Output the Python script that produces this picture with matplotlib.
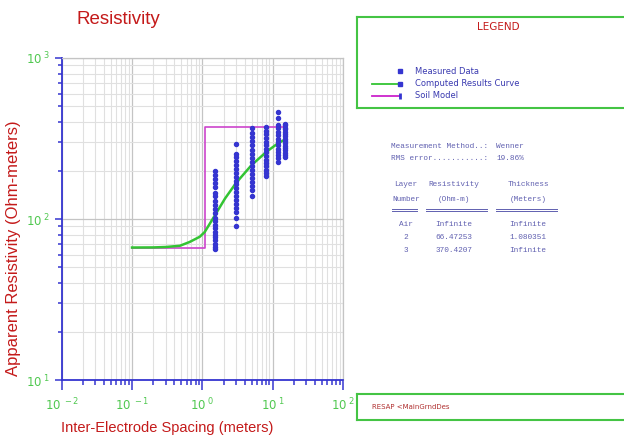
import math
import matplotlib
matplotlib.use("Agg")
import matplotlib.pyplot as plt
from matplotlib.ticker import LogLocator, FuncFormatter, NullFormatter

# electrode spacings (m) and measured apparent resistivity (ohm-m)
spacing = [1.5, 3, 5, 8, 12, 15]
measured = [
    [199, 188, 177, 167, 157, 146, 138, 129, 122, 115, 109, 102, 97, 92, 88, 83, 80, 77, 74, 70, 67, 65],
    [291, 255, 242, 229, 217, 205, 194, 183, 173, 164, 155, 147, 139, 131, 124, 117, 110, 101, 91],
    [366, 344, 323, 304, 287, 270, 254, 240, 226, 214, 201, 190, 179, 169, 160, 151, 138],
    [371, 352, 335, 318, 302, 287, 272, 259, 246, 234, 222, 212, 201, 193, 185],
    [464, 421, 383, 365, 348, 332, 316, 301, 288, 274, 262, 249, 238, 226],
    [391, 383, 370, 360, 348, 337, 326, 316, 306, 295, 286, 276, 267, 258, 249, 242],
]

# computed results curve
curve_x = [0.1, 0.2, 0.3, 0.48, 0.66, 0.92, 1.08, 1.5, 2.1, 3.0, 5.0, 8.2, 12, 15.3]
curve_rho = [66.5, 66.6, 67, 68.2, 72, 77.6, 83, 105, 134, 167, 216, 262, 296, 313]

# soil model
layer_rho = [66.47253, 370.4207]
layer_thick = 1.080351
model_start, model_end = 0.1, 15.3

table_rows = [
    ["Air", "Infinite", "Infinite"],
    ["2", "66.47253", "1.080351"],
    ["3", "370.4207", "Infinite"],
]
method = "Wenner"
rms_error = "19.86%"

red = "#c41a1a"
blue = "#3535d0"
green_txt = "#50c850"
txt_blue = "#6060b0"

W, H = 624, 440
fig = plt.figure(figsize=(6.24, 4.40), dpi=100)
fx = lambda px: px / W
fy = lambda py: 1 - py / H

ax = fig.add_axes([fx(61.7), fy(380), (343 - 61.7) / W, 322 / H])
ax.set_xscale("log")
ax.set_yscale("log")
ax.set_xlim(1e-2, 1e2)
ax.set_ylim(1e1, 1e3)

ax.grid(which="major", color="#c4c4c4", lw=0.9)
ax.grid(which="minor", color="#e0e0e0", lw=0.8)
ax.set_axisbelow(True)

# soil model
mx = [model_start, layer_thick, layer_thick, model_end]
my = [layer_rho[0], layer_rho[0], layer_rho[1], layer_rho[1]]
ax.plot(mx, my, color="#cc44cc", lw=1.2, zorder=3)

# computed curve
ax.plot(curve_x, curve_rho, color="#33c433", lw=1.8, zorder=4)

# measured data
for x, vals in zip(spacing, measured):
    ax.plot([x] * len(vals), vals, ls="none", marker="o", ms=2.9,
            color=blue, mec=blue, zorder=5)

for s in ["left", "bottom"]:
    ax.spines[s].set_color(blue)
    ax.spines[s].set_linewidth(1.3)
for s in ["top", "right"]:
    ax.spines[s].set_color("#c4c4c4")
    ax.spines[s].set_linewidth(0.9)

ax.xaxis.set_major_locator(LogLocator(base=10, numticks=10))
ax.yaxis.set_major_locator(LogLocator(base=10, numticks=10))
ax.xaxis.set_minor_locator(LogLocator(base=10, subs=range(2, 10), numticks=20))
ax.yaxis.set_minor_locator(LogLocator(base=10, subs=range(2, 10), numticks=20))
fmt = FuncFormatter(lambda v, p: r"$\mathregular{10^{\ %d}}$" % round(math.log10(v)))
ax.xaxis.set_major_formatter(fmt)
ax.yaxis.set_major_formatter(fmt)
ax.xaxis.set_minor_formatter(NullFormatter())
ax.yaxis.set_minor_formatter(NullFormatter())
ax.tick_params(axis="both", which="both", direction="out", color=blue, width=1.1,
               labelcolor=green_txt, labelsize=8.5)
ax.tick_params(axis="x", which="major", length=7, pad=5)
ax.tick_params(axis="x", which="minor", length=3.5)
ax.tick_params(axis="y", which="major", length=5, pad=3)
ax.tick_params(axis="y", which="minor", length=3)

fig.text(fx(167), fy(428), "Inter-Electrode Spacing (meters)", color=red,
         fontsize=10.5, family="Liberation Sans", ha="center", va="center")
fig.text(fx(14), fy(248), "Apparent Resistivity (Ohm-meters)", color=red,
         fontsize=12, family="Liberation Sans", ha="center", va="center",
         rotation=90)
fig.text(fx(118), fy(20), "Resistivity", color=red, fontsize=13.5,
         family="Liberation Sans", ha="center", va="center")

# legend panel
lax = fig.add_axes([fx(357), fy(108), 272 / W, 91 / H])
lax.set_xlim(357, 629)
lax.set_ylim(108, 17)
lax.set_xticks([])
lax.set_yticks([])
for s in lax.spines.values():
    s.set_color("#44c444")
    s.set_linewidth(1.5)
lax.text(498, 27, "LEGEND", color=red, fontsize=7.5, ha="center", va="center",
         family="Liberation Sans Narrow")
lax.plot([400], [71], ls="none", marker="s", ms=2.2, color=blue)
lax.plot([372, 400], [84, 84], color="#33c433", lw=1.3)
lax.plot([400], [84], ls="none", marker="s", ms=2.2, color=blue)
lax.plot([372, 400], [96, 96], color="#cc22cc", lw=1.3)
lax.plot([400], [96], ls="none", marker="|", ms=5, mew=2, color=blue)
for yy, lab in zip([71, 84, 96], ["Measured Data", "Computed Results Curve", "Soil Model"]):
    lax.text(415, yy, lab, color="#3a3ab0", fontsize=6, va="center",
             family=["Liberation Sans Narrow", "DejaVu Sans"])

# info text
mono = dict(color=txt_blue, fontsize=5.6, family="Liberation Mono", va="center")
fig.text(fx(391), fy(146), "Measurement Method..:", **mono)
fig.text(fx(496), fy(146), method, **mono)
fig.text(fx(391), fy(159), "RMS error...........:", **mono)
fig.text(fx(496), fy(159), rms_error, **mono)
cols = [406, 454, 528]
for cx, a, b in zip(cols, ["Layer", "Resistivity", "Thickness"],
                    ["Number", "(Ohm-m)", "(Meters)"]):
    fig.text(fx(cx), fy(185), a, ha="center", **mono)
    fig.text(fx(cx), fy(199), b, ha="center", **mono)
for x0, x1 in [(392, 417), (426, 487), (496, 557)]:
    for yy in [209, 211.5]:
        fig.add_artist(plt.Line2D([fx(x0), fx(x1)], [fy(yy), fy(yy)],
                                  color=txt_blue, lw=0.7))
for i, row in enumerate(table_rows):
    for cx, v in zip(cols, row):
        fig.text(fx(cx), fy(224 + 13 * i), v, ha="center", **mono)

# bottom status box
bax = fig.add_axes([fx(357), fy(420), 272 / W, 26 / H])
bax.set_xticks([])
bax.set_yticks([])
for s in bax.spines.values():
    s.set_color("#44c444")
    s.set_linewidth(1.5)
bax.text(0.055, 0.5, "RESAP <MainGrndDes", color="#b03030", fontsize=5,
         va="center", transform=bax.transAxes, family="Liberation Sans Narrow")

fig.savefig("out.png", dpi=100)
